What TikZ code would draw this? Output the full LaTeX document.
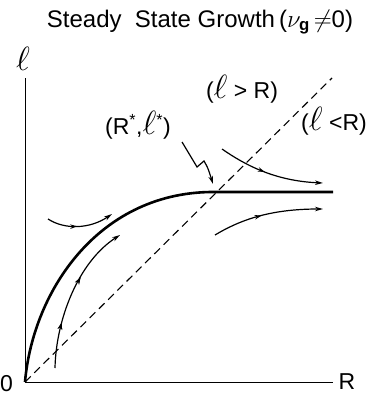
\documentclass[tikz,border=0pt]{standalone}
\usepackage{fontspec}
\setmainfont{Liberation Sans}
\usetikzlibrary{arrows.meta,decorations.markings}
\newcommand{\myell}{\scalebox{1.35}{$\ell$}}
\tikzset{
  axis/.style={line width=1pt},
  main/.style={line width=2.6pt},
  diag/.style={line width=1.1pt, dash pattern=on 8pt off 5pt},
  flow/.style={line width=1.2pt, -{Stealth[length=8pt,width=4.5pt]}},
  midarrow/.style={postaction={decorate},decoration={markings,
    mark=at position #1 with {\arrow{Stealth[length=7pt,width=4.5pt]}}}},
  lbl/.style={font=\fontsize{23}{23}\selectfont, inner sep=0pt},
  ttl/.style={font=\fontsize{24}{24}\selectfont, inner sep=0pt},
}
\begin{document}
\begin{tikzpicture}[x=1pt,y=-1pt]
\useasboundingbox (0,0) rectangle (371,396);
% axes
\coordinate (O) at (25,382);
\coordinate (ytop) at (25,78);
\coordinate (xend) at (333,382);
\draw[axis] (ytop) -- (O) -- (xend);
% diagonal
\coordinate (dtop) at (332,78);
\draw[diag] (O) -- (dtop);
% main curve
\coordinate (S) at (217,192);
\coordinate (mend) at (333,192);
\draw[main] (O) .. controls (33,290) and (100,190) .. (S) -- (mend);
% flow arrows
\coordinate (a1s) at (48,219); \coordinate (a1e) at (112,214);
\draw[flow, midarrow=0.45] (a1s) .. controls (65,230) and (90,229) .. (a1e);
\coordinate (a2s) at (55,368); \coordinate (a2e) at (120,235);
\draw[flow, midarrow=0.3, midarrow=0.62] (a2s) .. controls (56,320) and (78,262) .. (a2e);
\coordinate (a3s) at (222,149); \coordinate (a3e) at (323,183);
\draw[flow, midarrow=0.45] (a3s) .. controls (245,165) and (275,181) .. (a3e);
\coordinate (a4s) at (215,235); \coordinate (a4e) at (323,209);
\draw[flow, midarrow=0.45] (a4s) .. controls (240,220) and (270,209) .. (a4e);
% labels
\node[ttl] (title) at (200,22) {Steady\ \ State Growth\,($\nu_{\mathbf g}$\,$\neq$0)};
\node[lbl] (ylab) at (23,59) {\myell};
\node[lbl, anchor=west] (zero) at (0,384) {0};
\node[lbl] (xlab) at (347,382) {R};
\node[lbl] (gt) at (242,89) {(\myell\ > R)};
\node[lbl] (star) at (138,125) {(R\textsuperscript{*},\myell\textsuperscript{*})};
\node[lbl] (lt) at (334,121) {(\myell\ <R)};
% squiggle pointer
\coordinate (sq0) at (182,142);
\coordinate (k1) at (197,167);
\coordinate (k2) at (204,161);
\coordinate (sqe) at (213,184);
\draw[flow] (sq0) .. controls (188,152) .. (k1) -- (k2) .. controls (208,168) .. (sqe);
\end{tikzpicture}
\end{document}
